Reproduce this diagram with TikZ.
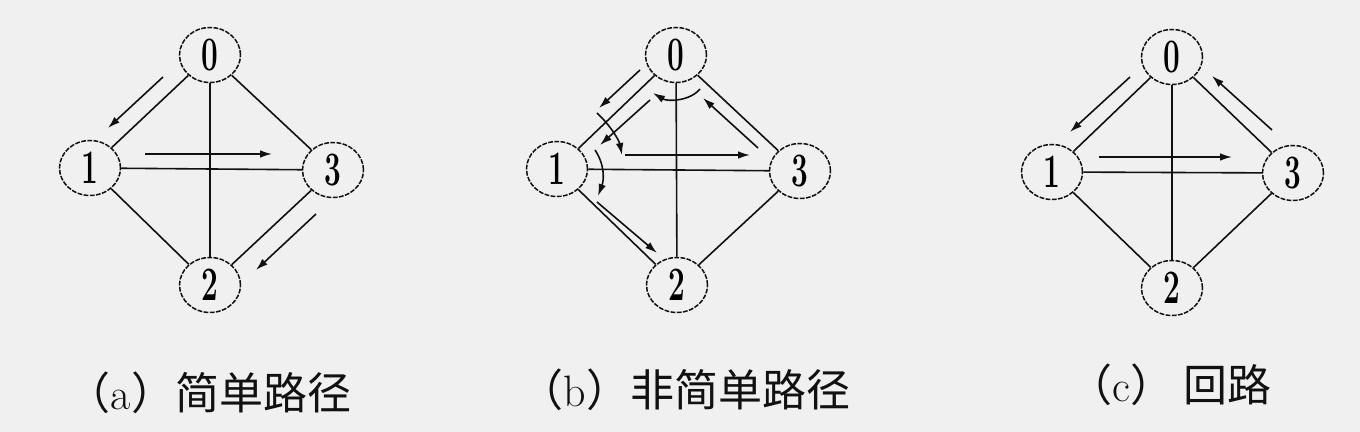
\documentclass[tikz,border=0pt]{standalone}
\usepackage{fontspec}
\usepackage{graphicx}
\newfontfamily\cjk{Noto Sans CJK SC}
\usetikzlibrary{shapes.geometric,arrows.meta}
\definecolor{bg}{HTML}{F0F0F0}
\definecolor{ink}{HTML}{111111}
\newcommand{\dg}[1]{\scalebox{0.62}[1]{#1}}
\begin{document}
\begin{tikzpicture}[x=0.5pt,y=-0.5pt,
  vtx/.style={ellipse,draw=ink,line width=0.75pt,minimum width=30.5pt,minimum height=27.5pt,inner sep=0pt,
    font=\fontsize{24}{24}\selectfont\bfseries,dash pattern=on 2.4pt off 0.7pt},
  edge/.style={draw=ink,line width=0.8pt},
  arr/.style={draw=ink,line width=0.8pt,-{Latex[length=6pt,width=3.8pt]}},
  captext/.style={font=\fontsize{22}{22}\selectfont,text=ink,inner sep=0pt}]
\fill[bg] (0,0) rectangle (1360,432);
\useasboundingbox (0,0) rectangle (1360,432);

% ---------- (a) ----------
\node[vtx] (a0) at (210,55) {\dg{0}};
\node[vtx] (a1) at (90,168) {\dg{1}};
\node[vtx] (a3) at (333,170) {\dg{3}};
\node[vtx] (a2) at (210,285) {\dg{2}};
\draw[edge] (a0) -- (a1);
\draw[edge] (a0) -- (a3);
\draw[edge] (a0) -- (a2);
\draw[edge] (a1) -- (a3);
\draw[edge] (a1) -- (a2);
\draw[edge] (a3) -- (a2);
\draw[arr] (163,77) -- (108,128);
\draw[arr] (145,154) -- (272,154);
\draw[arr] (316,214) -- (256,270);
\node[captext] (la) at (209,393) {{\cjk （}a{\cjk ）简单路径}};

% ---------- (b) ----------
\node[vtx] (b0) at (676,55) {\dg{0}};
\node[vtx] (b1) at (557,169) {\dg{1}};
\node[vtx] (b3) at (800,171) {\dg{3}};
\node[vtx] (b2) at (677,285) {\dg{2}};
\draw[edge] (b0) -- (b1);
\draw[edge] (b0) -- (b3);
\draw[edge] (b0) -- (b2);
\draw[edge] (b1) -- (b3);
\draw[edge] (b1) -- (b2);
\draw[edge] (b3) -- (b2);
\draw[arr] (640,70) -- (599,108);
\draw[arr] (597,113) .. controls (610,125) and (619,140) .. (622,155);
\draw[arr] (625,155) -- (750,155);
\draw[arr] (758,148) -- (703,98);
\draw[arr] (700,89) .. controls (690,101) and (668,102) .. (653,93);
\draw[arr] (650,100) -- (600,145);
\draw[arr] (595,150) .. controls (605,165) and (604,180) .. (598,196);
\draw[arr] (597,202) -- (657,253);
\node[captext] (lb) at (685,390) {{\cjk （}b{\cjk ）非简单路径}};

% ---------- (c) ----------
\node[vtx] (c0) at (1172,57) {\dg{0}};
\node[vtx] (c1) at (1052,172) {\dg{1}};
\node[vtx] (c3) at (1293,173) {\dg{3}};
\node[vtx] (c2) at (1172,288) {\dg{2}};
\draw[edge] (c0) -- (c1);
\draw[edge] (c0) -- (c3);
\draw[edge] (c0) -- (c2);
\draw[edge] (c1) -- (c3);
\draw[edge] (c1) -- (c2);
\draw[edge] (c3) -- (c2);
\draw[arr] (1130,77) -- (1070,132);
\draw[arr] (1099,157) -- (1232,157);
\draw[arr] (1272,130) -- (1212,76);
\node[captext] (lc) at (1170,385) {{\cjk （}c{\cjk ）\ 回路}};
\end{tikzpicture}
\end{document}
